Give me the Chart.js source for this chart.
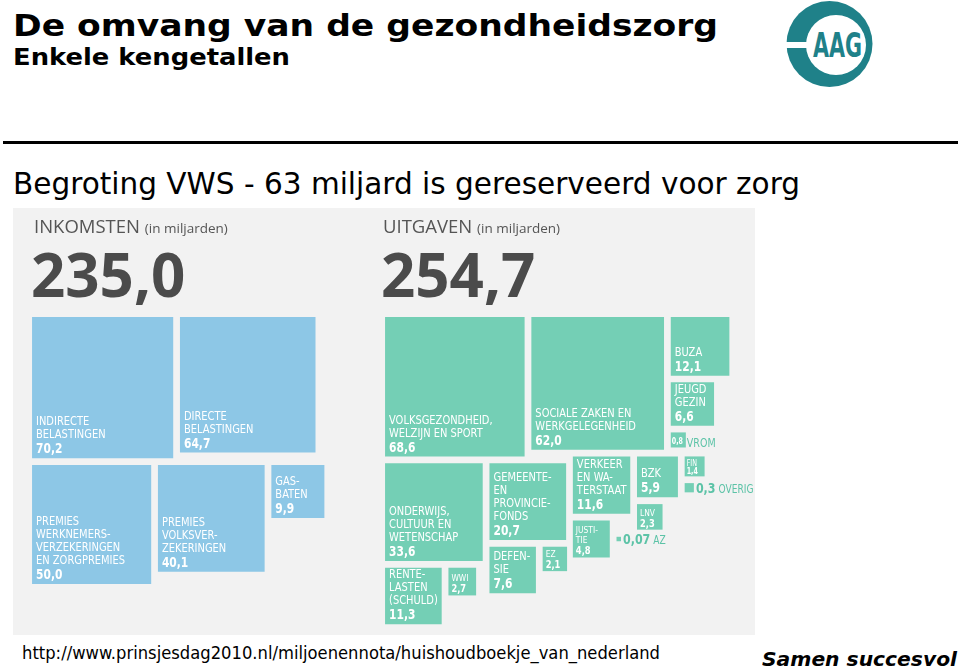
<!DOCTYPE html>
<html>
<head>
<meta charset="utf-8">
<script src="https://cdn.jsdelivr.net/npm/chart.js@4.4.0/dist/chart.umd.min.js"></script>
<style>
  body { margin: 0; width: 960px; height: 667px; background: #fff; position: relative; overflow: hidden; }
  .abs { position: absolute; white-space: nowrap; line-height: 1; transform-origin: left top; }
  #title { left: 13px; top: 8px; font: bold 30px 'DejaVu Sans', Verdana, sans-serif; color: #000; }
  #subtitle { left: 13px; top: 44px; font: bold 23px 'DejaVu Sans', Verdana, sans-serif; color: #000; }
  #rule { position: absolute; left: 3px; top: 141px; width: 955px; height: 3px; background: #000; }
  #heading { left: 13px; top: 166px; font: 30px 'DejaVu Sans', Tahoma, sans-serif; color: #000; }
  #panel { position: absolute; left: 13px; top: 208px; width: 742px; height: 427px; background: #f2f2f2; }
  .hdr { font: 18.5px 'Open Sans', sans-serif; color: #555; }
  .hdr span { font-size: 13.5px; }
  .total { font: bold 60px 'Open Sans', sans-serif; color: #4b4b4b; }
  #source { left: 22px; top: 643px; font: 17px 'DejaVu Sans', Tahoma, sans-serif; color: #000; }
  #slogan { left: 762px; top: 648px; font: italic bold 19.5px 'DejaVu Sans', Verdana, sans-serif; color: #000; }
  #logo { position: absolute; left: 780px; top: 0; }
</style>
</head>
<body>
<div id="title" class="abs">De omvang van de gezondheidszorg</div>
<div id="subtitle" class="abs">Enkele kengetallen</div>
<svg id="logo" width="100" height="92">
  <circle cx="49.5" cy="44" r="43" fill="#1f8189"/>
  <circle cx="56" cy="45" r="30" fill="#fff"/>
  <rect x="0" y="42" width="30" height="6" fill="#fff"/>
  <text x="57.5" y="57" text-anchor="middle" textLength="49" lengthAdjust="spacingAndGlyphs"
        font-family="DejaVu Sans Condensed, sans-serif" font-weight="bold" font-size="34" fill="#1f8189">AAG</text>
</svg>
<div id="rule"></div>
<div id="heading" class="abs">Begroting VWS - 63 miljard is gereserveerd voor zorg</div>

<div id="panel"><canvas id="budgetChart" width="742" height="427"></canvas></div>
<div class="abs hdr" style="left:34px;top:213px">INKOMSTEN <span>(in miljarden)</span></div>
<div class="abs hdr" style="left:383px;top:213px">UITGAVEN <span>(in miljarden)</span></div>
<div class="abs total" id="incomeTotal" style="left:31px;top:233px"></div>
<div class="abs total" id="spendTotal" style="left:381px;top:233px"></div>

<div id="source" class="abs">http://www.prinsjesdag2010.nl/miljoenennota/huishoudboekje_van_nederland</div>
<div id="slogan" class="abs">Samen succesvol</div>

<script>
// Inkomsten (in miljarden)
const incomeNames = [
    'INDIRECTE\nBELASTINGEN',
    'DIRECTE\nBELASTINGEN',
    'PREMIES\nWERKNEMERS-\nVERZEKERINGEN\nEN ZORGPREMIES',
    'PREMIES\nVOLKSVER-\nZEKERINGEN',
    'GAS-\nBATEN'
];
const incomeValues = [70.2, 64.7, 50.0, 40.1, 9.9];
const incomeTotal = '235,0';

// Uitgaven (in miljarden)
const spendNames = [
    'VOLKSGEZONDHEID,\nWELZIJN EN SPORT',
    'SOCIALE ZAKEN EN\nWERKGELEGENHEID',
    'BUZA',
    'JEUGD\nGEZIN',
    'VROM',
    'ONDERWIJS,\nCULTUUR EN\nWETENSCHAP',
    'RENTE-\nLASTEN\n(SCHULD)',
    'WWI',
    'GEMEENTE-\nEN\nPROVINCIE-\nFONDS',
    'DEFEN-\nSIE',
    'EZ',
    'VERKEER\nEN WA-\nTERSTAAT',
    'JUSTI-\nTIE',
    'AZ',
    'BZK',
    'LNV',
    'FIN',
    'OVERIG'
];
const spendValues = [68.6, 62.0, 12.1, 6.6, 0.8, 33.6, 11.3, 2.7, 20.7, 7.6, 2.1, 11.6, 4.8, 0.07, 5.9, 2.3, 1.4, 0.3];
const spendTotal = '254,7';

// how the squares pack: each one sits right of and/or below an earlier one
const incomeLayout = [{}, { right: 0 }, { below: 0 }, { right: 2 }, { right: 3 }];
const spendLayout = [
    {}, { right: 0 }, { right: 1 }, { below: 2 }, { below: 3 },
    { below: 0 }, { below: 5 }, { right: 6 }, { right: 5 }, { below: 8 }, { right: 9 },
    { right: 8, below: 1 }, { below: 11 }, { right: 12, middle: true },
    { right: 11 }, { below: 14 }, { right: 14 }, { below: 16 }
];

// panel space in sqrt(miljard) units, so the area of a square is its value
const PX_PER_UNIT = 16.85;
const PANEL_W = 742 / PX_PER_UNIT;
const PANEL_H = 427 / PX_PER_UNIT;
const GAP = 0.4;
const incomeOrigin = [1.13, 6.47];
const spendOrigin = [22.08, 6.47];

const BLUE = '#8dc7e6';
const TEAL = '#74cfb5';
const TEAL_TEXT = '#5cc3a7';
const LABEL_FONT = "'DejaVu Sans Condensed', 'Liberation Sans Narrow', sans-serif";
const NARROW = 0.88;

function placeSquares(values, names, rules, origin) {
    const boxes = [];
    values.forEach((v, i) => {
        const side = Math.sqrt(v);
        const rule = rules[i];
        let left = origin[0], top = origin[1];
        if (rule.right !== undefined) {
            const r = boxes[rule.right];
            left = r.left + r.side + GAP;
            top = rule.middle ? r.top + (r.side - side) / 2 : r.top;
        }
        if (rule.below !== undefined) {
            const b = boxes[rule.below];
            top = b.top + b.side + GAP;
            if (rule.right === undefined) left = b.left;
        }
        boxes.push({ left, top, side });
    });
    return boxes.map((b, i) => ({
        x: b.left + b.side / 2,
        y: b.top + b.side / 2,
        side: b.side,
        value: values[i],
        name: names[i]
    }));
}

function formatValue(v) {
    const s = String(v);
    return (s.indexOf('.') < 0 ? s + '.0' : s).replace('.', ',');
}

function squareRadius(ctx) {
    if (!ctx.raw) return 0;
    const sx = ctx.chart.scales.x;
    return (sx.getPixelForValue(ctx.raw.side) - sx.getPixelForValue(0)) * Math.SQRT1_2;
}

// text squeezed sideways, returns drawn width
function narrowText(c, text, x, y) {
    c.save();
    c.translate(x, y);
    c.scale(NARROW, 1);
    c.fillText(text, 0, 0);
    c.restore();
    return c.measureText(text).width * NARROW;
}

const squareLabels = {
    id: 'squareLabels',
    afterDatasetsDraw(chart) {
        const c = chart.ctx;
        chart.data.datasets.forEach((ds, di) => {
            chart.getDatasetMeta(di).data.forEach((pt, i) => {
                const item = ds.data[i];
                const half = pt.options.radius * Math.SQRT1_2;
                const side = half * 2;
                const left = pt.x - half, right = pt.x + half, bottom = pt.y + half;
                const val = formatValue(item.value);
                c.save();
                c.textBaseline = 'alphabetic';
                c.textAlign = 'left';
                if (side < 12) {
                    // value and name beside the square
                    c.fillStyle = TEAL_TEXT;
                    c.font = 'bold 14px ' + LABEL_FONT;
                    const w = narrowText(c, val, right + 2, pt.y + 5);
                    c.font = '11.5px ' + LABEL_FONT;
                    narrowText(c, item.name, right + 5 + w, pt.y + 5);
                } else if (side < 18) {
                    c.fillStyle = '#fff';
                    c.font = 'bold 8px ' + LABEL_FONT;
                    narrowText(c, val, left + 1, bottom - 3);
                    c.fillStyle = TEAL_TEXT;
                    c.font = '12px ' + LABEL_FONT;
                    narrowText(c, item.name, right + 1, bottom);
                } else {
                    let t;
                    if (side >= 38) t = { name: 12.5, val: 13.5, line: 13, gap: 15, padX: 4, padB: 5 };
                    else if (side >= 21) t = { name: 9.5, val: 10.5, line: 10, gap: 11, padX: 3, padB: 3 };
                    else t = { name: 8, val: 8, line: 7.5, gap: 7.5, padX: 2, padB: 2.5 };
                    c.fillStyle = '#fff';
                    let base = bottom - t.padB;
                    c.font = 'bold ' + t.val + 'px ' + LABEL_FONT;
                    narrowText(c, val, left + t.padX, base);
                    base -= t.gap;
                    c.font = t.name + 'px ' + LABEL_FONT;
                    const lines = item.name.split('\n');
                    for (let k = lines.length - 1; k >= 0; k--) {
                        narrowText(c, lines[k], left + t.padX, base);
                        base -= t.line;
                    }
                }
                c.restore();
            });
        });
    }
};

// stretch the slide texts to the widths they have on the original slide
function fitWidth(id, target) {
    const el = document.getElementById(id);
    const w = el.getBoundingClientRect().width;
    el.style.transform = 'scaleX(' + (target / w) + ')';
}
fitWidth('title', 705);
fitWidth('subtitle', 277);
fitWidth('heading', 787);
fitWidth('source', 638);
fitWidth('slogan', 195);

document.getElementById('incomeTotal').textContent = incomeTotal;
document.getElementById('spendTotal').textContent = spendTotal;

const incomePoints = placeSquares(incomeValues, incomeNames, incomeLayout, incomeOrigin);
const spendPoints = placeSquares(spendValues, spendNames, spendLayout, spendOrigin);

const budgetChart = new Chart(document.getElementById('budgetChart'), {
    type: 'scatter',
    data: {
        datasets: [
            {
                label: 'Inkomsten',
                data: incomePoints,
                backgroundColor: BLUE,
                pointStyle: 'rect',
                pointRadius: squareRadius,
                pointHoverRadius: squareRadius,
                pointBorderWidth: 0
            },
            {
                label: 'Uitgaven',
                data: spendPoints,
                backgroundColor: TEAL,
                pointStyle: 'rect',
                pointRadius: squareRadius,
                pointHoverRadius: squareRadius,
                pointBorderWidth: 0
            }
        ]
    },
    options: {
        responsive: false,
        animation: false,
        events: [],
        layout: { padding: 0 },
        plugins: {
            legend: { display: false },
            tooltip: { enabled: false }
        },
        scales: {
            x: { type: 'linear', display: false, min: 0, max: PANEL_W },
            y: { type: 'linear', display: false, min: 0, max: PANEL_H, reverse: true }
        }
    },
    plugins: [squareLabels]
});
</script>
</body>
</html>
